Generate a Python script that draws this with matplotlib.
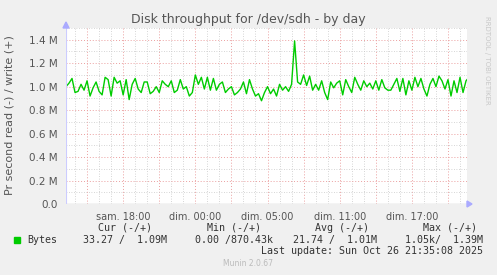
import matplotlib
matplotlib.use('Agg')
import matplotlib.pyplot as plt
from matplotlib.ticker import MultipleLocator, FuncFormatter, FixedLocator

# données : débit en écriture (M octets/s), un point toutes les 15 minutes
write_m = [
    1.00, 1.03, 1.07, 0.95, 0.96, 1.02, 0.97, 1.05, 0.92, 0.99, 1.04, 0.96, 0.93, 1.08,
    1.06, 0.92, 1.08, 1.03, 1.05, 0.93, 1.06, 0.89, 1.02, 1.07, 0.98, 0.95, 1.04,
    1.04, 0.94, 0.96, 1.00, 0.95, 1.05, 1.02, 1.00, 1.05, 0.95, 0.97, 1.06, 0.98, 1.00,
    0.92, 0.95, 1.10, 1.02, 1.08, 0.98, 1.08, 0.97, 1.07, 0.97, 1.02, 1.04, 0.95,
    0.98, 1.00, 0.93, 0.95, 0.98, 1.04, 0.94, 1.06, 0.98, 0.92, 0.94, 0.88, 0.95, 1.00,
    0.94, 0.98, 0.92, 1.02, 0.97, 1.00, 0.96, 1.02, 1.39, 1.04, 1.02, 1.10, 1.01,
    1.09, 0.97, 1.02, 0.97, 1.05, 0.95, 0.89, 1.04, 0.99, 1.03, 1.05, 0.93, 1.06, 1.00,
    0.95, 1.08, 1.02, 0.97, 1.05, 1.00, 1.03, 0.98, 1.05, 0.97, 1.06, 0.99, 0.97,
    0.97, 1.02, 1.07, 0.96, 1.07, 0.93, 1.05, 0.97, 1.08, 1.00, 1.07, 0.98, 0.92, 1.02,
    1.07, 1.00, 1.09, 1.05, 0.98, 1.06, 0.92, 1.05, 0.95, 1.08, 0.95, 1.05, 1.08,
]
step_h = 0.25
span_h = 33.33
hours = [i * step_h for i in range(len(write_m))]

tick_hours = [4.75, 10.75, 16.75, 22.75, 28.75]
tick_labels = ['sam. 18:00', 'dim. 00:00', 'dim. 05:00', 'dim. 11:00', 'dim. 17:00']

legend_head = ['Cur (-/+)', 'Min (-/+)', 'Avg (-/+)', 'Max (-/+)']
legend_vals = ['33.27 /  1.09M', '0.00 /870.43k', '21.74 /  1.01M', '1.05k/  1.39M']

W, H = 497, 275
fig = plt.figure(figsize=(W / 100, H / 100), dpi=100, facecolor='#f0f0f0')
ax = fig.add_axes([66 / W, (H - 204) / H, 401 / W, 176 / H])
ax.set_facecolor('white')

ax.set_xlim(0, span_h)

# grille
ax.xaxis.set_major_locator(FixedLocator([1.75 + 3 * k for k in range(11)]))
ax.xaxis.set_minor_locator(FixedLocator([0.75 + k for k in range(33)]))
ax.yaxis.set_major_locator(MultipleLocator(0.2))
ax.yaxis.set_minor_locator(MultipleLocator(0.1))
ax.grid(which='minor', color='#c8c8c8', linestyle=(0, (1, 2)), linewidth=0.6)
ax.grid(which='major', color='#eb9f9f', linestyle=(0, (1, 2)), linewidth=0.7)
ax.set_axisbelow(True)

ax.set_yticks([0, 0.2, 0.4, 0.6, 0.8, 1.0, 1.2, 1.4])
ax.set_ylim(0, 1.5)
ax.yaxis.set_major_formatter(FuncFormatter(lambda v, p: '0.0' if v == 0 else '%.1f M' % v))
ax.tick_params(axis='y', which='both', length=0, labelsize=7.5, colors='#555555', pad=6)
ax.tick_params(axis='x', which='both', length=0, labelbottom=False)

for th, tl in zip(tick_hours, tick_labels):
    ax.text(th, -0.045, tl, transform=ax.get_xaxis_transform(), ha='center', va='top',
            fontsize=7, color='#555555')

for s in ax.spines.values():
    s.set_visible(False)

ax.plot(hours, write_m, color='#00cc00', linewidth=1.0, zorder=3)

# axes façon rrdtool
ax.axhline(0, color='#444444', linewidth=0.8, zorder=4)
ax.axvline(0, color='#ccccff', linewidth=0.8, zorder=4)
fig.patches.append(plt.Polygon([[467 / W, (H - 201) / H], [467 / W, (H - 207) / H], [472 / W, (H - 204) / H]],
                               closed=True, transform=fig.transFigure, color='#aaaaff'))
fig.patches.append(plt.Polygon([[63 / W, (H - 28) / H], [69 / W, (H - 28) / H], [66 / W, (H - 22) / H]],
                               closed=True, transform=fig.transFigure, color='#aaaaff'))

fig.text(248 / W, 1 - 19 / H, 'Disk throughput for /dev/sdh - by day', ha='center', va='center',
         fontsize=9, color='#555555')
fig.text(10 / W, 1 - 115 / H, 'Pr second read (-) / write (+)', rotation=90, ha='center', va='center',
         fontsize=8, color='#555555')
fig.text(487 / W, 1 - 16 / H, 'RRDTOOL / TOBI OETIKER', rotation=270, ha='center', va='top',
         fontsize=5, color='#c8c8c8')

mono = 'DejaVu Sans Mono'
head_x = [98, 207, 315, 423]
val_x = [83, 195, 293, 405]
for hx, ht in zip(head_x, legend_head):
    fig.text(hx / W, 1 - 228 / H, ht, ha='left', va='center', fontsize=7.2, family=mono, color='#333333')
fig.patches.append(plt.Rectangle((14 / W, 1 - 243 / H), 6 / W, 6 / H, transform=fig.transFigure,
                                 color='#00cc00'))
fig.text(27 / W, 1 - 240 / H, 'Bytes', ha='left', va='center', fontsize=7.2, family=mono, color='#333333')
for vx, vt in zip(val_x, legend_vals):
    fig.text(vx / W, 1 - 240 / H, vt, ha='left', va='center', fontsize=7.2, family=mono, color='#333333')
fig.text(483 / W, 1 - 251 / H, 'Last update: Sun Oct 26 21:35:08 2025', ha='right', va='center',
         fontsize=7.2, family=mono, color='#333333')
fig.text(248 / W, 1 - 264 / H, 'Munin 2.0.67', ha='center', va='center', fontsize=5.5, color='#bbbbbb')

fig.savefig('out.png', dpi=100, facecolor=fig.get_facecolor())
